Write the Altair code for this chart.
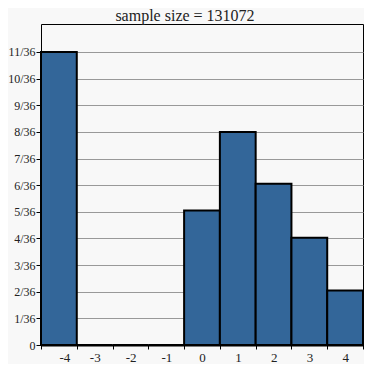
import altair as alt
import pandas as pd

values = [-4, -3, -2, -1, 0, 1, 2, 3, 4]
counts36 = [11, 0, 0, 0, 5.05, 8.0, 6.05, 4.03, 2.05]
ytick_num = list(range(0, 12))
title_text = "sample size = 131072"

df = pd.DataFrame({
    "v": values,
    "lo": [v - 0.5 for v in values],
    "hi": [v + 0.5 for v in values],
    "p": [c / 36 for c in counts36],
})

font = "Liberation Serif"

xaxis = alt.Axis(
    values=[v - 0.5 for v in values] + [4.5],
    labelExpr="datum.value < 4 ? toString(datum.value + 0.5) : ''",
    labelOffset=18,
    labelFont=font, labelFontSize=13, labelColor="#222",
    tickColor="black", tickSize=4, tickWidth=1,
    domainColor="black", domainWidth=2,
    grid=False, title=None, labelPadding=2,
)
yaxis = alt.Axis(
    values=[k / 36 for k in ytick_num],
    labelExpr="datum.value == 0 ? '0' : toString(round(datum.value*36)) + '/36'",
    labelFont=font, labelFontSize=12, labelColor="#222",
    tickColor="black", tickSize=5, tickWidth=1,
    domain=False, grid=True, gridColor="#999", gridWidth=1,
    title=None, labelPadding=1,
)

chart = alt.Chart(df).mark_bar(
    color="#336699", stroke="black", strokeWidth=2
).encode(
    x=alt.X("lo:Q", scale=alt.Scale(domain=[-4.5, 4.5], nice=False, zero=False), axis=xaxis),
    x2="hi:Q",
    y=alt.Y("p:Q", scale=alt.Scale(domain=[0, 12.05 / 36], nice=False), axis=yaxis),
    y2=alt.datum(0),
).properties(
    width=322, height=321,
    autosize="none",
    padding={"left": 33, "top": 16, "right": 1, "bottom": 19},
    background="#f8f8f8",
    title=alt.TitleParams(title_text, font=font, fontSize=16, fontWeight="normal",
                          color="#222", offset=0, dx=-17),
).configure_view(
    stroke="black", strokeWidth=1, fill="#f8f8f8"
)

chart.save("out.html", embed_options={"renderer": "svg", "actions": False})
